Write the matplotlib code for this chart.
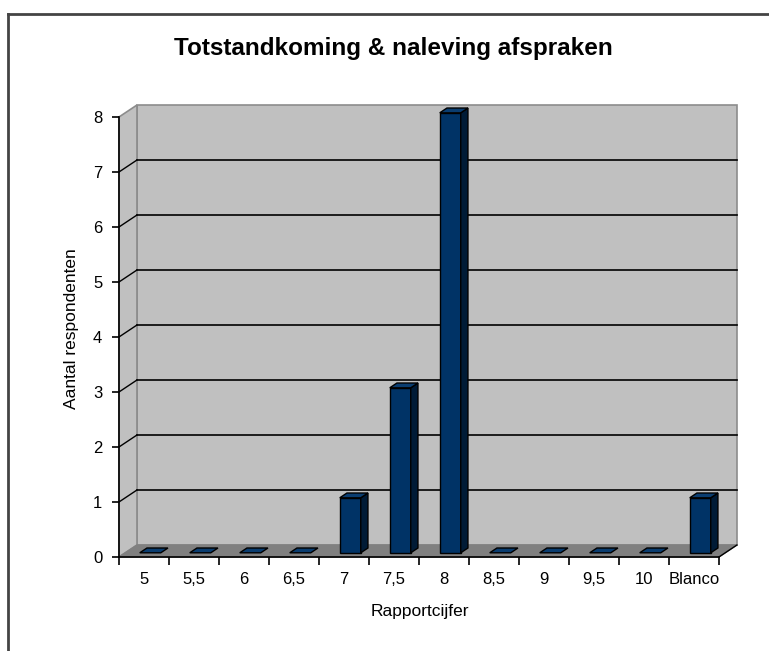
import matplotlib
matplotlib.use("Agg")
import matplotlib.pyplot as plt
from matplotlib.patches import Polygon
from matplotlib.lines import Line2D

plt.rcParams["font.family"] = ["Liberation Sans", "DejaVu Sans"]

# survey results
categories = ["5", "5,5", "6", "6,5", "7", "7,5", "8", "8,5", "9", "9,5", "10", "Blanco"]
counts = [0, 0, 0, 0, 1, 3, 8, 0, 0, 0, 0, 1]
y_ticks = list(range(0, 9))

title = "Totstandkoming & naleving afspraken"
x_label = "Rapportcijfer"
y_label = "Aantal respondenten"

# fake 3d: full depth offset in data units
DX, DY = 0.36, 0.218
D0, D1 = 0.35, 0.75   # bar front/back depth fractions
BW = 0.42             # bar width in category units

wall = "#c0c0c0"
floor = "#808080"
edge = "#8c8c8c"
front = "#003366"
side = "#001b36"
top = "#0a3d70"

fig = plt.figure(figsize=(7.69, 6.51), dpi=100)
ax = fig.add_axes([0.1547, 0.1444, 0.8127, 0.7012])
n = len(categories)
ymax = y_ticks[-1]
ax.set_xlim(0, n + 0.5)
ax.set_ylim(0, ymax + 0.3)

def poly(pts, fc, ec, lw=1.0, z=1):
    ax.add_patch(Polygon(pts, closed=True, facecolor=fc, edgecolor=ec,
                         linewidth=lw, zorder=z, clip_on=False))

# walls and floor
poly([(DX, DY), (n + DX, DY), (n + DX, ymax + DY), (DX, ymax + DY)], wall, edge, 1.2)
poly([(0, 0), (DX, DY), (DX, ymax + DY), (0, ymax)], wall, edge, 1.2)
poly([(0, 0), (n, 0), (n + DX, DY), (DX, DY)], floor, floor, 1.0)

# gridlines on back and side walls
for v in y_ticks[1:-1]:
    ax.plot([DX, n + DX], [v + DY, v + DY], color="black", lw=1.2, zorder=2)
    ax.plot([0, DX], [v, v + DY], color="black", lw=1.0, zorder=2)
ax.plot([n, n + DX], [0, DY], color="black", lw=1.0, zorder=2)

# bars
for i, v in enumerate(counts):
    x0 = i + 0.5 - BW / 2 + DX * D0
    x1 = x0 + BW
    y0 = DY * D0
    ddx = DX * (D1 - D0)
    ddy = DY * (D1 - D0)
    if v > 0:
        poly([(x0, y0), (x1, y0), (x1, y0 + v), (x0, y0 + v)], front, "black", 1.0, 3)
        poly([(x1, y0), (x1 + ddx, y0 + ddy), (x1 + ddx, y0 + ddy + v), (x1, y0 + v)],
             side, "black", 1.0, 3)
    poly([(x0, y0 + v), (x1, y0 + v), (x1 + ddx, y0 + ddy + v), (x0 + ddx, y0 + ddy + v)],
         top, "black", 1.0, 3)

# axes
for s in ("top", "right"):
    ax.spines[s].set_visible(False)
ax.spines["left"].set_bounds(0, ymax)
ax.spines["bottom"].set_bounds(0, n)
for s in ("left", "bottom"):
    ax.spines[s].set_linewidth(1.2)
    ax.spines[s].set_zorder(4)
ax.set_facecolor("none")

ax.set_yticks(y_ticks)
ax.set_yticklabels([str(t) for t in y_ticks], fontsize=12)
ax.set_xticks(range(n + 1))
ax.set_xticklabels([])
ax.set_xticks([i + 0.5 for i in range(n)], minor=True)
ax.set_xticklabels(categories, minor=True, fontsize=12)
ax.tick_params(axis="x", which="major", direction="out", length=6, width=1.2)
ax.tick_params(axis="x", which="minor", length=0, pad=11)
ax.tick_params(axis="y", direction="out", length=5, width=1.2, pad=7)

ax.set_xlabel(x_label, fontsize=12.5)
ax.xaxis.set_label_coords(0.4816, -0.103)
ax.set_ylabel(y_label, fontsize=12.5)
ax.yaxis.set_label_coords(-0.064, 0.5)

fig.text(0.511, 1 - 49 / 651, title, ha="center", va="center", fontsize=17.5,
         fontweight="bold")

# chart area border (top and left edges visible)
fig.add_artist(Line2D([8 / 769, 1.0], [1 - 14 / 651, 1 - 14 / 651], color="#444444", lw=2,
                      transform=fig.transFigure))
fig.add_artist(Line2D([8 / 769, 8 / 769], [0.0, 1 - 14 / 651], color="#444444", lw=2,
                      transform=fig.transFigure))

fig.savefig("out.png", dpi=100)
